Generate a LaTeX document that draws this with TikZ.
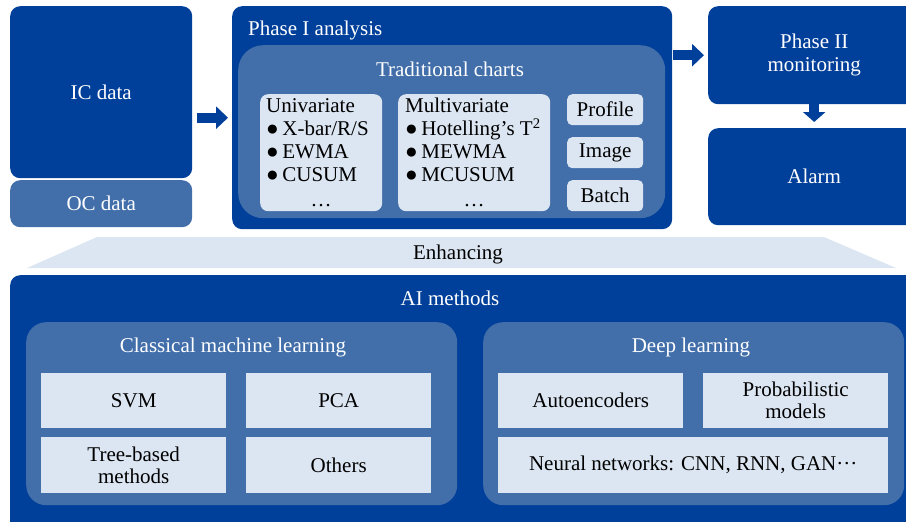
\documentclass[tikz,border=0pt]{standalone}
\usepackage{fontspec}
\setmainfont{Liberation Serif}
\usetikzlibrary{arrows.meta}
\definecolor{dblue}{HTML}{00409A}
\definecolor{mblue}{HTML}{426FAA}
\definecolor{lblue}{HTML}{DCE6F2}
\begin{document}
\begin{tikzpicture}[x=1pt,y=-1pt,
  every node/.style={inner sep=0pt, font=\fontsize{21}{23}\selectfont},
  sz/.style n args={2}{minimum width=#1pt, minimum height=#2pt, anchor=north west},
  dark/.style={fill=dblue, text=white, rounded corners=10pt},
  mid/.style={fill=mblue, text=white, rounded corners=#1},
  mid/.default=10pt,
  light/.style={fill=lblue, text=black, rounded corners=#1},
  light/.default=8pt,
  lbl/.style={text=white},
  bigarrow/.style={draw=dblue, line width=10pt, -{Triangle[length=12pt,width=22pt]}}
]
\useasboundingbox (0,0) rectangle (906,522);
\clip (0,0) rectangle (906,522);

% top left
\node[dark, sz={182}{172}] (ic) at (10,6) {IC data};
\node[mid, sz={182}{47}] (oc) at (10,180) {OC data};

% Phase I
\node[dark, sz={440}{223}] (p1) at (232,6) {};
\node[lbl, anchor=west] (p1t) at (248,30) {Phase I analysis};
\node[mid=25pt, sz={427}{173}] (tc) at (238,45) {};
\node[lbl] (tct) at (450,69) {Traditional charts};

\node[light, sz={122}{117}] (uni) at (260,94) {};
\node[anchor=north west, align=left, text=black] (unit) at (266,98)
  {Univariate\\●\,X-bar/R/S\\●\,EWMA\\●\,CUSUM};
\node[text=black, anchor=base] (unid) at (321,206) {…};

\node[light, sz={152}{117}] (mul) at (398,94) {};
\node[anchor=north west, align=left, text=black] (mult) at (405,98)
  {Multivariate\\●\,Hotelling’s T\textsuperscript{2}\\●\,MEWMA\\●\,MCUSUM};
\node[text=black, anchor=base] (muld) at (474,206) {…};

\node[light=5pt, sz={76}{31}] (prof) at (567,94) {Profile};
\node[light=5pt, sz={76}{31}] (img) at (567,137) {Image};
\node[light=5pt, sz={76}{31}] (bat) at (567,180) {Batch};

% Phase II
\node[dark, sz={212}{98}, align=center] (p2) at (708,6) {Phase II\\monitoring};
\node[dark, sz={212}{97}] (al) at (708,128) {Alarm};

% arrows
\draw[bigarrow, shorten <=5pt, shorten >=4pt] (ic.east |- p1.center) -- (p1.west |- p1.center);
\draw[bigarrow, shorten <=1pt, shorten >=4pt] (p1.east |- p2.center) -- (p2.west);
\draw[bigarrow, -{Triangle[length=10pt,width=22pt]}, shorten >=6pt] (p2.south) -- (al.north);

% Enhancing band
\fill[lblue] (97,237) -- (824,237) -- (896,268) -- (27,268) -- cycle;
\node[text=black] (enh) at (458,254) {Enhancing};

% AI methods
\node[dark, sz={920}{270}] (ai) at (10,275) {};
\node[lbl] (ait) at (450,298) {AI methods};

\node[mid=20pt, sz={431}{183}] (cml) at (26,322) {};
\node[lbl] (cmlt) at (233,347) {Classical machine learning};
\node[light=0pt, sz={185}{55}] (svm) at (41,373) {SVM};
\node[light=0pt, sz={185}{55}] (pca) at (246,373) {PCA};
\node[light=0pt, sz={185}{56}, align=center, font=\fontsize{21}{22}\selectfont] (tree) at (41,437) {Tree-based\\methods};
\node[light=0pt, sz={185}{56}] (oth) at (246,437) {Others};

\node[mid=20pt, sz={421}{183}] (dl) at (483,322) {};
\node[lbl] (dlt) at (691,347) {Deep learning};
\node[light=0pt, sz={185}{55}] (ae) at (498,373) {Autoencoders};
\node[light=0pt, sz={185}{55}, align=center, font=\fontsize{21}{22}\selectfont] (pm) at (703,373) {Probabilistic\\models};
\node[light=0pt, sz={390}{56}] (nn) at (498,437) {Neural networks: CNN, RNN, GAN···};
\end{tikzpicture}
\end{document}
